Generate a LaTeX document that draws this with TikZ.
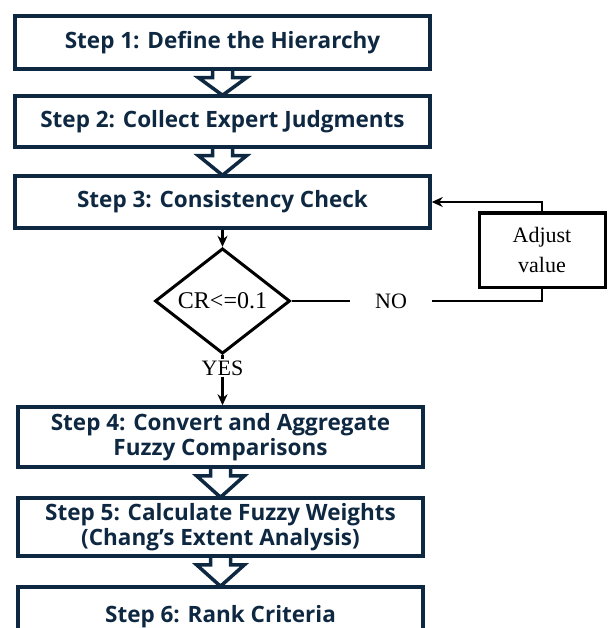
\documentclass[tikz,border=0pt]{standalone}
\usepackage{fontspec}
\setmainfont{Liberation Serif}
\newfontfamily\stepfont{Open Sans}
\usepackage{tikz}
\definecolor{navy}{HTML}{0E2841}
\usetikzlibrary{arrows.meta}
\usetikzlibrary{shapes.geometric,backgrounds}
\tikzset{
  stepbox/.style = {rectangle, draw=navy, line width=3.5pt, text=navy,
    align=center, inner sep=0pt, font=\stepfont\bfseries\fontsize{22.5}{25}\selectfont},
  step_w/.style = {stepbox, minimum width=415pt},% top three steps
  step_n/.style = {stepbox, minimum width=405pt},% lower steps
  decision/.style = {diamond, draw=black, line width=3pt, inner sep=0pt,
    minimum width=135pt, minimum height=83pt, font=\fontsize{24}{26}\selectfont},
  adjbox/.style = {rectangle, draw=black, line width=3pt, align=center,
    minimum width=126pt, minimum height=74pt, font=\fontsize{22}{30}\selectfont},
  flowlabel/.style = {inner ysep=1pt, font=\fontsize{22}{26}\selectfont},
  flowline/.style = {black, line width=2.8pt},
  bigarrow/.style = {draw=navy, fill=white, line width=3.5pt, line join=miter},
}
% hollow block arrow from one step down to the next
\newcommand{\bigdown}[2]{%
  \coordinate (w) at ([yshift=-7pt]#1.south);
  \draw[bigarrow] ([xshift=-10pt]#1.south) -- ([xshift=-10pt]w) -- ([xshift=-24pt]w)
    -- ([yshift=-1pt]#2.north) -- ([xshift=24pt]w) -- ([xshift=10pt]w)
    -- ([xshift=10pt]#1.south);
}

\begin{document}
\begin{tikzpicture}[x=1pt,y=-1pt,>={Stealth[length=11pt,width=10pt]}]
  \useasboundingbox (0,0) rectangle (611,628);
  \clip (0,0) rectangle (611,628);

  \node[step_w, minimum height=53pt] (s1) at (222.5,42.5) {Step 1: Define the Hierarchy};
  \node[step_w, minimum height=51pt] (s2) at (222.5,121.5) {Step 2: Collect Expert Judgments};
  \node[step_w, minimum height=52pt] (s3) at (222.5,202) {Step 3: Consistency Check};

  \node[decision] (cr) at (222.5,301) {CR<=0.1\hspace{8pt}};
  \node[adjbox] (adj) at (542,250) {Adjust\\value};
  \node[flowlabel, inner xsep=25pt] (no) at (391,301) {NO};
  \node[flowlabel] (yes) at (222.5,368) {YES};

  \node[step_n, minimum height=60pt] (s4) at (220.5,437) {Step 4: Convert and Aggregate\\Fuzzy Comparisons};
  \node[step_n, minimum height=58pt] (s5) at (220.5,527) {Step 5: Calculate Fuzzy Weights\\(Chang’s Extent Analysis)};
  \node[step_n, minimum height=60pt] (s6) at (220.5,617) {Step 6: Rank Criteria};

  % block arrows behind the steps
  \begin{scope}[on background layer]
    \bigdown{s1}{s2}
    \bigdown{s2}{s3}
    \bigdown{s4}{s5}
    \bigdown{s5}{s6}
  \end{scope}

  % check loop
  \draw[flowline,->] (s3.south) -- (cr.north);
  \draw[flowline] (cr.south) -- (yes);
  \draw[flowline,->] (yes) -- (yes |- s4.north);
  \draw[flowline] (cr.east) -- (no);
  \draw[flowline] (no) -- (no -| adj.south) -- (adj.south);
  \draw[flowline,->] (adj.north) |- (s3.east);
\end{tikzpicture}
\end{document}
